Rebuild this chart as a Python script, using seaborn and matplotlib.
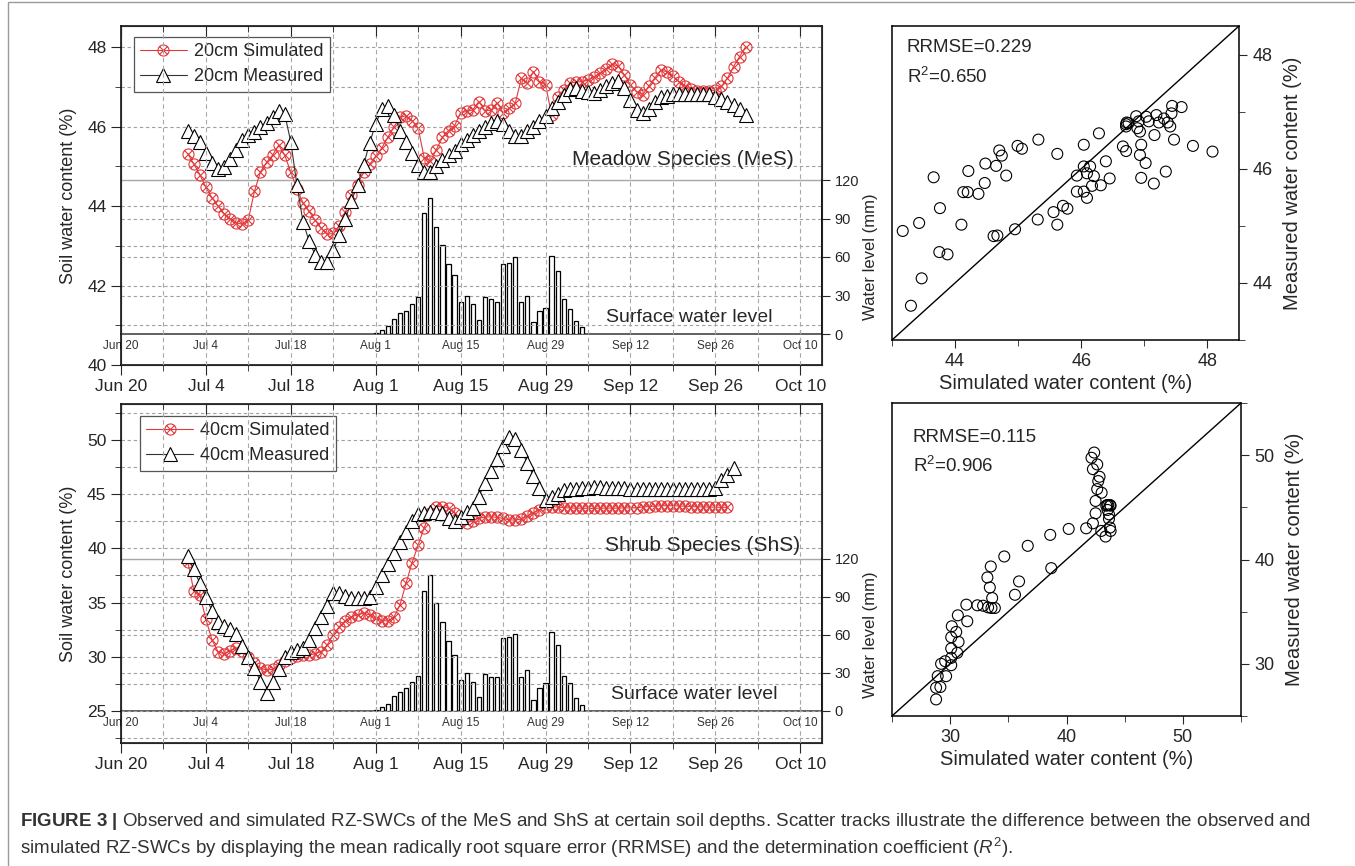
import numpy as np
import pandas as pd
import seaborn as sns
import matplotlib.pyplot as plt
import matplotlib.dates as mdates
from matplotlib.path import Path
from matplotlib.patches import Rectangle
from matplotlib.ticker import FuncFormatter, MultipleLocator, NullFormatter

sns.set_style('ticks')
plt.rcParams['font.family'] = ['Liberation Sans', 'DejaVu Sans']
plt.rcParams['mathtext.fontset'] = 'custom'
plt.rcParams['mathtext.rm'] = 'Liberation Sans'
plt.rcParams['mathtext.it'] = 'Liberation Sans:italic'
plt.rcParams['mathtext.bf'] = 'Liberation Sans:bold'

# ---- data ----
series_start = '2017-07-01'
mes_sim = [45.32, 45.06, 44.79, 44.47, 44.21, 44.00, 43.81, 43.68, 43.58, 43.54,
           43.66, 44.37, 44.86, 45.10, 45.28, 45.53, 45.28, 44.85, 44.44, 44.08,
           43.87, 43.64, 43.45, 43.29, 43.31, 43.51, 43.85, 44.27, 44.54, 44.85,
           45.05, 45.25, 45.46, 45.73, 45.99, 46.23, 46.27, 46.15, 45.96, 45.21,
           45.13, 45.42, 45.73, 45.90, 46.02, 46.35, 46.38, 46.42, 46.63, 46.40,
           46.41, 46.60, 46.35, 46.46, 46.58, 47.21, 47.09, 47.38, 47.13, 47.05,
           46.30, 46.75, 46.92, 47.09, 47.12, 47.13, 47.17, 47.24, 47.34, 47.46,
           47.57, 47.52, 47.30, 47.05, 46.88, 46.80, 47.01, 47.22, 47.42, 47.38,
           47.26, 47.13, 47.02, 46.94, 46.90, 46.90, 46.90, 46.92, 47.01, 47.22,
           47.51, 47.76, 48.01]
mes_meas = [45.89, 45.77, 45.61, 45.34, 45.09, 44.93, 44.98, 45.19, 45.42, 45.67,
            45.78, 45.87, 45.99, 46.09, 46.24, 46.40, 46.31, 45.61, 44.54, 43.61,
            43.12, 42.78, 42.58, 42.58, 42.90, 43.26, 43.68, 44.12, 44.54, 45.03,
            45.59, 46.07, 46.44, 46.52, 46.30, 45.90, 45.61, 45.34, 45.04, 44.85,
            44.85, 45.00, 45.15, 45.28, 45.39, 45.55, 45.65, 45.78, 45.90, 46.00,
            46.08, 46.15, 46.07, 45.88, 45.75, 45.75, 45.88, 45.99, 46.13, 46.27,
            46.46, 46.63, 46.80, 46.95, 46.97, 46.90, 46.86, 46.84, 46.92, 47.02,
            47.10, 47.14, 46.96, 46.67, 46.42, 46.34, 46.45, 46.63, 46.74, 46.78,
            46.82, 46.83, 46.83, 46.83, 46.83, 46.82, 46.81, 46.75, 46.70, 46.63,
            46.55, 46.44, 46.30]
shs_sim = [38.77, 36.10, 35.70, 33.46, 31.55, 30.47, 30.26, 30.56, 30.78, 30.56,
           30.01, 29.40, 28.94, 28.78, 28.84, 29.24, 29.61, 29.86, 30.07, 30.13,
           30.17, 30.26, 30.47, 31.09, 32.01, 32.78, 33.33, 33.70, 33.86, 34.01,
           33.86, 33.55, 33.33, 33.30, 33.64, 34.78, 36.78, 38.68, 40.31, 41.91,
           43.24, 43.85, 43.85, 43.70, 43.24, 42.62, 42.37, 42.56, 42.77, 42.87,
           42.90, 42.85, 42.75, 42.62, 42.60, 42.70, 42.95, 43.25, 43.55, 43.80,
           43.85, 43.80, 43.75, 43.72, 43.70, 43.70, 43.68, 43.68, 43.70, 43.70,
           43.70, 43.70, 43.72, 43.72, 43.75, 43.80, 43.85, 43.88, 43.92, 43.92,
           43.92, 43.90, 43.88, 43.85, 43.82, 43.80, 43.80, 43.78, 43.78, 43.78]
shs_meas = [39.30, 38.07, 36.78, 35.49, 34.26, 33.24, 32.84, 32.53, 32.10, 31.03,
            30.01, 28.94, 27.71, 26.63, 27.71, 28.85, 30.01, 30.47, 30.63, 30.78,
            31.55, 32.63, 33.64, 34.69, 35.85, 35.85, 35.61, 35.45, 35.45, 35.45,
            35.55, 36.41, 37.55, 38.52, 39.52, 40.55, 41.50, 42.56, 43.17, 43.24,
            43.30, 43.39, 43.24, 42.77, 42.47, 42.87, 43.30, 43.70, 44.77, 46.00,
            47.08, 48.22, 49.45, 50.30, 50.05, 49.02, 47.85, 46.68, 45.54, 44.46,
            44.71, 45.02, 45.33, 45.45, 45.50, 45.55, 45.60, 45.62, 45.62, 45.60,
            45.58, 45.55, 45.52, 45.50, 45.50, 45.48, 45.48, 45.47, 45.47, 45.46,
            45.46, 45.45, 45.45, 45.44, 45.44, 45.44, 45.44, 45.54, 46.25, 46.80,
            47.39]

water_start = '2017-08-01'
water_mes = [1, 3, 6.5, 12, 16, 18, 23, 28.5, 94, 106, 83, 69, 54.5, 46, 25, 30, 23,
             11, 29, 27, 25, 54.5, 55, 60, 25, 30, 9, 18, 20, 61, 49, 27, 19.5, 10, 5.5]
water_shs = [0.5, 3, 5.6, 12, 15, 18, 23, 28, 95, 107, 85, 70, 55, 44.5, 24.7, 30, 23,
             11, 29, 27, 27, 58, 58.6, 61, 27, 32, 9, 18, 22, 62, 52, 27.6, 22, 10, 5]

mes_sc_sim = [43.17, 43.30, 43.43, 43.47, 43.66, 43.76, 43.75, 43.88, 44.10, 44.13,
              44.20, 44.21, 44.37, 44.47, 44.48, 44.65, 44.61, 44.67, 44.70, 44.74,
              44.81, 44.95, 44.99, 45.06, 45.32, 45.31, 45.56, 45.62, 45.62, 45.71,
              45.78, 45.93, 45.93, 46.04, 46.04, 46.04, 46.09, 46.14, 46.09, 46.20,
              46.17, 46.31, 46.28, 46.39, 46.45, 46.66, 46.71, 46.71, 46.72, 46.75,
              46.71, 46.87, 46.89, 46.91, 46.93, 46.93, 46.95, 46.95, 47.02, 47.03,
              47.07, 47.15, 47.16, 47.19, 47.23, 47.31, 47.34, 47.37, 47.41, 47.43,
              47.44, 47.47, 47.59, 47.77, 48.08]
mes_sc_meas = [44.91, 43.60, 45.05, 44.08, 45.85, 45.31, 44.54, 44.50, 45.02, 45.59,
               45.59, 45.96, 45.56, 45.75, 46.09, 46.05, 44.82, 44.83, 46.32, 46.23,
               45.88, 44.94, 46.40, 46.35, 46.51, 45.11, 45.24, 45.02, 46.26, 45.35,
               45.30, 45.88, 45.60, 45.60, 46.42, 46.04, 45.49, 46.04, 45.92, 45.87,
               45.70, 45.71, 46.62, 46.13, 45.83, 46.39, 46.31, 46.78, 46.81, 46.80,
               46.74, 46.92, 46.71, 46.83, 46.65, 46.24, 46.42, 45.84, 46.10, 46.91,
               46.83, 45.74, 46.59, 46.94, 46.81, 46.88, 45.95, 46.81, 46.74, 46.97,
               47.10, 46.51, 47.08, 46.40, 46.30]
shs_sc_sim = [28.79, 28.79, 29.16, 28.93, 29.65, 29.22, 29.57, 30.09, 30.09, 30.61,
              30.09, 30.72, 30.09, 30.52, 30.14, 30.66, 31.47, 31.39, 32.34, 32.83,
              33.26, 33.55, 33.84, 33.61, 33.41, 33.20, 33.49, 35.57, 35.92, 34.65,
              36.67, 38.60, 38.69, 40.19, 41.69, 42.27, 42.50, 42.50, 42.64, 42.73,
              42.84, 42.27, 42.64, 42.15, 42.38, 43.02, 42.99, 43.36, 43.51, 43.53,
              43.65, 43.74, 43.79, 43.59, 43.74, 43.79, 43.42, 43.65]
shs_sc_meas = [26.59, 27.71, 27.78, 28.82, 28.82, 30.00, 30.25, 29.87, 30.57, 31.05,
               31.47, 32.10, 32.55, 33.06, 33.60, 34.65, 34.08, 35.67, 35.61, 35.57,
               35.41, 35.35, 35.35, 36.31, 37.32, 38.28, 39.33, 36.62, 37.90, 40.29,
               41.31, 42.36, 39.17, 42.93, 42.99, 43.47, 44.43, 45.61, 46.75, 47.52,
               47.93, 48.66, 49.11, 49.75, 50.25, 46.40, 42.74, 42.20, 45.22, 44.75,
               44.33, 43.06, 42.74, 45.22, 45.22, 45.16, 45.16, 43.89]

date_ticks = pd.date_range('2017-06-20', '2017-10-10', freq='14D')
date_minor = pd.date_range('2017-06-20', '2017-10-10', freq='7D')
x_lim = (pd.Timestamp('2017-06-20'), pd.Timestamp('2017-10-13 14:00'))

RED = '#e2393b'
GRID = dict(color='#a0a0a0', linestyle=(0, (3, 2.5)), linewidth=0.8)
VGRID = dict(color='#a8a8a8', linestyle=(0, (4, 3)), linewidth=0.8)

circ = Path.unit_circle()
cross = Path([(-0.707, -0.707), (0.707, 0.707), (-0.707, 0.707), (0.707, -0.707)],
             [Path.MOVETO, Path.LINETO, Path.MOVETO, Path.LINETO])
otimes = Path.make_compound_path(circ, cross)

date_fmt = FuncFormatter(lambda v, p: '{:%b} {}'.format(mdates.num2date(v), mdates.num2date(v).day))

W, H = 1355, 866
fig = plt.figure(figsize=(W / 100, H / 100), dpi=100)


def box(x0, y0, x1, y1):
    return [x0 / W, 1 - y1 / H, (x1 - x0) / W, (y1 - y0) / H]


def series_panel(main_box, inset_box, sim, meas, water, depth, ylim, ymaj, ymin_, name,
                 name_xy, swl_xy, leg_off):
    ax = fig.add_axes(main_box)
    axi = fig.add_axes(inset_box)
    ax.set_zorder(2)
    ax.patch.set_visible(False)
    axi.set_zorder(1)
    axi.patch.set_visible(False)

    d_sim = pd.date_range(series_start, periods=len(sim), freq='D')
    d_meas = pd.date_range(series_start, periods=len(meas), freq='D')
    d_w = pd.date_range(water_start, periods=len(water), freq='D')

    sns.lineplot(x=d_sim, y=sim, ax=ax, color=RED, lw=0.8, marker=otimes, markersize=8,
                 markerfacecolor='none', markeredgecolor=RED, markeredgewidth=0.8,
                 label=f'{depth} Simulated')
    sns.lineplot(x=d_meas, y=meas, ax=ax, color='#333333', lw=0.8, marker='^', markersize=10,
                 markerfacecolor='white', markeredgecolor='black', markeredgewidth=0.8,
                 label=f'{depth} Measured')

    ax.set_xlim(x_lim)
    ax.set_ylim(ylim)
    ax.set_xticks(date_ticks)
    ax.set_xticks(date_minor, minor=True)
    ax.xaxis.set_major_formatter(date_fmt)
    ax.yaxis.set_major_locator(MultipleLocator(ymaj))
    ax.yaxis.set_minor_locator(MultipleLocator(ymin_))
    ax.tick_params(axis='both', which='both', direction='out', labelsize=12.5, right=False)
    ax.tick_params(axis='x', which='major', length=7, pad=3)
    ax.tick_params(axis='x', which='minor', length=4)
    ax.tick_params(axis='y', which='major', length=7)
    ax.tick_params(axis='y', which='minor', length=4)
    for s in ax.spines.values():
        s.set_linewidth(1.1)
        s.set_color('black')
    ax.set_xlabel('')
    ax.set_ylabel('Soil water content (%)', fontsize=13, labelpad=7)
    ax.set_axisbelow(True)
    ax.yaxis.grid(True, which='both', **GRID)

    # inward ticks along the top edge, plus the weekly vertical grid
    axt = ax.twiny()
    axt.set_xlim(mdates.date2num(x_lim[0]), mdates.date2num(x_lim[1]))
    axt.set_xticks(mdates.date2num(date_ticks))
    axt.set_xticks(mdates.date2num(date_minor), minor=True)
    axt.xaxis.set_major_formatter(NullFormatter())
    axt.tick_params(axis='x', which='major', direction='in', length=7)
    axt.tick_params(axis='x', which='minor', direction='in', length=4)
    axt.xaxis.grid(True, which='both', **VGRID)

    leg = ax.legend(loc='upper left', bbox_to_anchor=leg_off, fontsize=13, frameon=True,
                    fancybox=False, edgecolor='#555555', framealpha=1, borderpad=0.35,
                    labelspacing=0.45, handlelength=2.6, handletextpad=0.4, borderaxespad=0)
    leg.get_frame().set_linewidth(0.9)

    ax.text(name_xy[0], name_xy[1], name, transform=ax.transAxes, ha='right', va='center',
            fontsize=15)

    axi.bar(d_w, water, width=0.7, color='white', edgecolor='black', linewidth=0.9, zorder=3)
    axi.set_xlim(x_lim)
    axi.set_ylim(0, 120)
    axi.set_yticks([0, 30, 60, 90, 120])
    axi.set_xticks(date_ticks)
    axi.set_xticks(date_minor, minor=True)
    axi.xaxis.set_major_formatter(date_fmt)
    axi.yaxis.tick_right()
    axi.yaxis.set_label_position('right')
    axi.set_ylabel('Water level (mm)', fontsize=12, labelpad=3)
    axi.tick_params(axis='x', which='both', direction='in', length=3, labelsize=8.5, pad=4,
                    colors='#333333')
    axi.tick_params(axis='y', direction='out', length=6, labelsize=10.5, pad=3)
    axi.set_axisbelow(True)
    axi.yaxis.grid(True, **GRID)
    axi.spines['left'].set_visible(False)
    axi.spines['top'].set_color('#a8a8a8')
    axi.spines['top'].set_linewidth(1.0)
    axi.spines['bottom'].set_color('#555555')
    axi.spines['bottom'].set_linewidth(1.3)
    axi.spines['right'].set_linewidth(1.1)
    axi.set_xlabel('')
    axi.text(swl_xy[0], swl_xy[1], 'Surface water level', transform=ax.transAxes, ha='right',
             va='center', fontsize=14)
    return ax


ax1 = series_panel(box(121, 26, 822, 365), box(121, 180, 822, 334), mes_sim, mes_meas,
                   water_mes, '20cm', (40, 48.53), 2, 1, 'Meadow Species (MeS)',
                   (0.959, 0.605), (0.930, 0.139), (0.018, 0.968))
ax2 = series_panel(box(121, 404, 822, 743), box(121, 559, 822, 711), shs_sim, shs_meas,
                   water_shs, '40cm', (22.05, 53.3), 5, 2.5, 'Shrub Species (ShS)',
                   (0.969, 0.584), (0.936, 0.1445), (0.027, 0.965))
ax2.set_yticks([25, 30, 35, 40, 45, 50])


def scatter_panel(bx, sim, meas, lim, maj, mnr, rr, r2, txt_x, txt_y):
    ax = fig.add_axes(bx)
    sns.scatterplot(x=sim, y=meas, ax=ax, s=62, facecolors='none', edgecolor='black',
                    linewidth=0.8, zorder=3)
    ax.axline((lim[0], lim[0]), slope=1, color='black', lw=1.0)
    ax.set_xlim(lim)
    ax.set_ylim(lim)
    ax.xaxis.set_major_locator(MultipleLocator(maj))
    ax.xaxis.set_minor_locator(MultipleLocator(mnr))
    ax.yaxis.set_major_locator(MultipleLocator(maj))
    ax.yaxis.set_minor_locator(MultipleLocator(mnr))
    ax.yaxis.tick_right()
    ax.yaxis.set_label_position('right')
    ax.tick_params(which='both', direction='out', labelsize=13)
    ax.tick_params(which='major', length=6)
    ax.tick_params(which='minor', length=4)
    for s in ax.spines.values():
        s.set_linewidth(1.1)
        s.set_color('black')
    ax.set_xlabel('Simulated water content (%)', fontsize=14.5, labelpad=3)
    ax.set_ylabel('Measured water content (%)', fontsize=14.5, labelpad=8)
    ax.text(txt_x, txt_y, f'RRMSE={rr}', transform=ax.transAxes, fontsize=13.5, va='center')
    ax.text(txt_x, txt_y - 0.092, f'R$^2$={r2}', transform=ax.transAxes, fontsize=13.5,
            va='center')
    return ax


scatter_panel(box(892, 26, 1239, 340), mes_sc_sim, mes_sc_meas, (43, 48.5), 2, 1,
              '0.229', '0.650', 0.043, 0.93)
scatter_panel(box(892, 403, 1241, 716), shs_sc_sim, shs_sc_meas, (25, 55), 10, 5,
              '0.115', '0.906', 0.06, 0.891)

fig.patches.append(Rectangle((8 / W, -0.01), 1.0, 1 - 1.5 / H + 0.01, transform=fig.transFigure,
                             fill=False, edgecolor='#9a9a9a', linewidth=1.0))
fig.text(20 / W, 1 - 821 / H,
         r'$\mathbf{FIGURE\ 3\ |}$ Observed and simulated RZ-SWCs of the MeS and ShS at certain '
         'soil depths. Scatter tracks illustrate the difference between the observed and',
         fontsize=13.5, color='#333333', va='center')
fig.text(20 / W, 1 - 848 / H,
         'simulated RZ-SWCs by displaying the mean radically root square error (RRMSE) and '
         r'the determination coefficient ($\mathit{R}^2$).',
         fontsize=13.5, color='#333333', va='center')

fig.savefig('out.png', dpi=100, facecolor='white')
